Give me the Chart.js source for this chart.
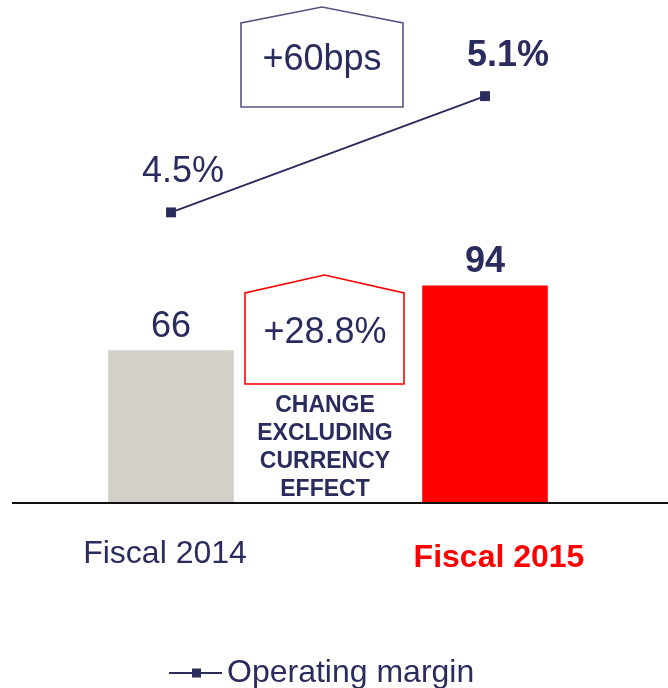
<!DOCTYPE html>
<html>
<head>
<meta charset="utf-8">
<script src="https://cdn.jsdelivr.net/npm/chart.js@4"></script>
<style>
  html, body { margin: 0; padding: 0; background: #fff; overflow: hidden; }
  canvas { display: block; }
</style>
</head>
<body>
<canvas id="chart" width="668" height="688"></canvas>
<script>
// data
const categories = ['Fiscal 2014', 'Fiscal 2015'];
const revenue = [66, 94];
const revenueLabels = ['66', '94'];
const margin = [4.5, 5.1];
const marginLabels = ['4.5%', '5.1%'];
const barColors = ['#D3D0C9', '#FF0000'];
const revenueChange = '+28.8%';
const marginChange = '+60bps';
const changeNote = ['CHANGE', 'EXCLUDING', 'CURRENCY', 'EFFECT'];
const legendLabel = 'Operating margin';

const NAVY = '#2B2C5E';
const FONT = '"Liberation Sans", Arial, sans-serif';

// little house-shaped callout box
function house(ctx, x0, x1, yPeak, yEave, yBottom, color) {
  ctx.save();
  ctx.strokeStyle = color;
  ctx.lineWidth = 1.6;
  ctx.beginPath();
  ctx.moveTo(x0, yBottom);
  ctx.lineTo(x0, yEave);
  ctx.lineTo((x0 + x1) / 2, yPeak);
  ctx.lineTo(x1, yEave);
  ctx.lineTo(x1, yBottom);
  ctx.closePath();
  ctx.stroke();
  ctx.restore();
}

const decorations = {
  id: 'decorations',
  afterDatasetsDraw(chart) {
    const ctx = chart.ctx;
    const x = chart.scales.x;
    const y = chart.scales.y;
    const base = y.getPixelForValue(0);
    const bars = chart.getDatasetMeta(1).data;
    const pts = chart.getDatasetMeta(0).data;

    // baseline
    ctx.save();
    ctx.strokeStyle = '#111';
    ctx.lineWidth = 2;
    ctx.beginPath();
    ctx.moveTo(12, base);
    ctx.lineTo(chart.width, base);
    ctx.stroke();

    ctx.textAlign = 'center';
    ctx.textBaseline = 'middle';

    // bar values
    bars.forEach((b, i) => {
      ctx.fillStyle = NAVY;
      ctx.font = (i === 1 ? 'bold ' : '') + '36px ' + FONT;
      ctx.fillText(revenueLabels[i], b.x, b.y - 23);
    });

    // margin values
    const dx = [12, 23];
    pts.forEach((p, i) => {
      ctx.fillStyle = NAVY;
      ctx.font = (i === 1 ? 'bold ' : '') + '36px ' + FONT;
      ctx.fillText(marginLabels[i], p.x + dx[i], p.y - 40);
    });

    // category labels
    categories.forEach((c, i) => {
      const cx = x.getPixelForValue(i);
      ctx.fillStyle = i === 1 ? '#FF0000' : NAVY;
      ctx.font = (i === 1 ? 'bold ' : '') + '32px ' + FONT;
      ctx.fillText(c, cx + (i === 1 ? 14 : -6), base + (i === 1 ? 55 : 51));
    });

    // callouts between the two categories
    const mid = (x.getPixelForValue(0) + x.getPixelForValue(1)) / 2;
    house(ctx, mid - 87, mid + 75, 7, 23, 107, '#55557F');
    ctx.fillStyle = NAVY;
    ctx.font = '36px ' + FONT;
    ctx.fillText(marginChange, mid - 6, 60);

    house(ctx, mid - 83, mid + 76, 275, 293, 384, '#FF0000');
    ctx.fillText(revenueChange, mid - 3, 333);

    ctx.font = 'bold 23px ' + FONT;
    changeNote.forEach((t, i) => {
      ctx.fillText(t, mid - 3, 406 + i * 28);
    });

    // legend
    const ly = 673;
    ctx.strokeStyle = NAVY;
    ctx.lineWidth = 2;
    ctx.beginPath();
    ctx.moveTo(169, ly);
    ctx.lineTo(222, ly);
    ctx.stroke();
    ctx.fillRect(192, ly - 4.5, 9, 9);
    ctx.textAlign = 'left';
    ctx.font = '32px ' + FONT;
    ctx.fillText(legendLabel, 227, ly);
    ctx.restore();
  }
};

new Chart(document.getElementById('chart'), {
  data: {
    labels: categories,
    datasets: [
      {
        type: 'line',
        label: legendLabel,
        data: margin,
        yAxisID: 'y1',
        borderColor: NAVY,
        borderWidth: 2,
        pointStyle: 'rect',
        pointRadius: 7,
        pointBackgroundColor: NAVY,
        pointBorderColor: NAVY,
        pointBorderWidth: 0,
        order: 0
      },
      {
        type: 'bar',
        label: 'Revenue',
        data: revenue,
        yAxisID: 'y',
        backgroundColor: barColors,
        borderWidth: 0,
        barPercentage: 0.8,
        categoryPercentage: 0.5,
        order: 1
      }
    ]
  },
  options: {
    responsive: false,
    animation: false,
    layout: { padding: { left: 14, right: 26, top: 38, bottom: 185 } },
    plugins: {
      legend: { display: false },
      tooltip: { enabled: false }
    },
    scales: {
      x: { display: false, offset: true },
      y: { display: false, min: 0, max: 201 },
      y1: { display: false, min: 3.0, max: 5.4, position: 'right' }
    }
  },
  plugins: [decorations]
});
</script>
</body>
</html>
